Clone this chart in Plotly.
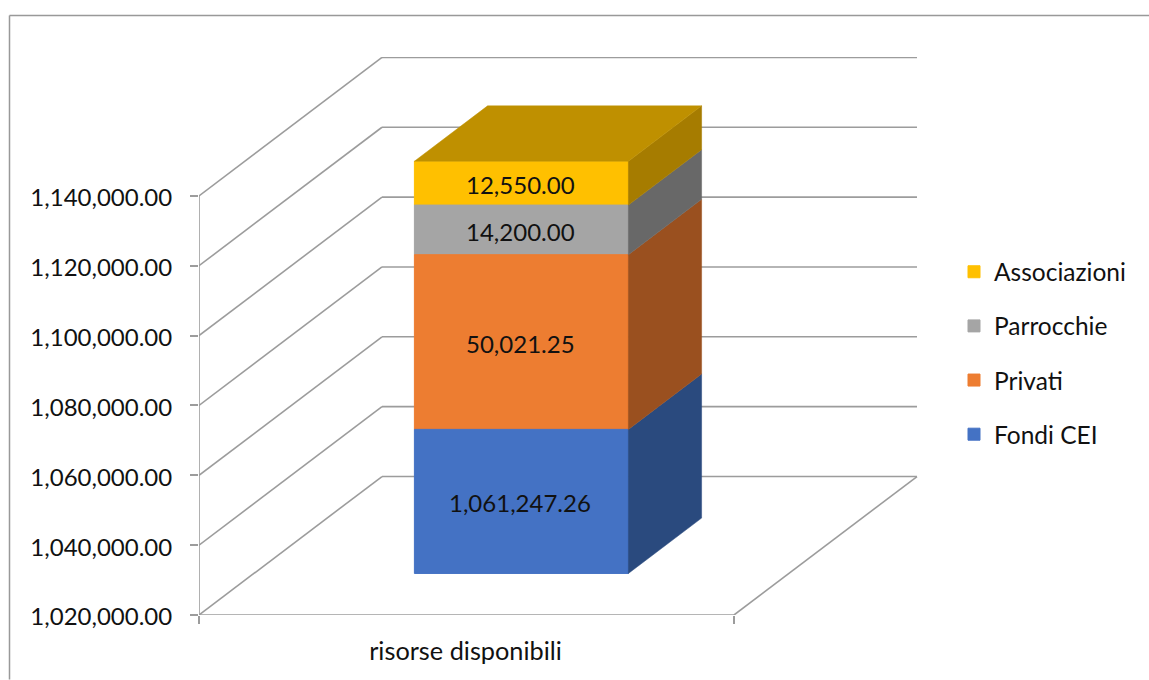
import plotly.graph_objects as go

# ---- data ----
categories = ["risorse disponibili"]
series_names = ["Fondi CEI", "Privati", "Parrocchie", "Associazioni"]
series_values = [1061247.26, 50021.25, 14200.00, 12550.00]
face_colors = ["#4472C4", "#ED7D31", "#A5A5A5", "#FFC000"]
side_colors = ["#2A4A7E", "#9A501F", "#686868", "#A67C00"]
top_color = "#BF9000"
y_ticks = [1020000, 1040000, 1060000, 1080000, 1100000, 1120000, 1140000]

# ---- layout constants (pixels of the page) ----
W, H = 1149, 680
PL, PR, PT, PB = 199.0, 918.0, 57.0, 615.5
BAND_PX = 535.0            # front width of the floor
DX_PX, DY_PX = 183.0, 138.6  # full depth of the chart box
Y_MIN = y_ticks[0]
PX_PER_UNIT = (PB - 196.0) / (y_ticks[-1] - y_ticks[0])

GRID = "#9C9C9C"
FONT = "Lato"
FS = 24
INK = "#111111"

# oblique projection, expressed in axis units
depth_x = DX_PX / BAND_PX
depth_y = DY_PX / PX_PER_UNIT
def proj(band, value, depth):
    return band + depth * depth_x, value + depth * depth_y

BAR_L, BAR_R, D0, D1 = 0.30, 0.70, 0.30, 0.70

fig = go.Figure()

# stack bounds
bounds = []
bottom = Y_MIN
for i, v in enumerate(series_values):
    height = v - Y_MIN if i == 0 else v
    bounds.append((bottom, bottom + height))
    bottom += height

# front faces: real bars; added top series first so the legend reads top to bottom
annotations = []
for i in reversed(range(len(series_names))):
    n, v, c = series_names[i], series_values[i], face_colors[i]
    lo, hi = bounds[i]
    x0, b0 = proj(0.5, lo, D0)
    fig.add_trace(go.Bar(
        x=[x0], y=[hi - lo], base=[b0], width=[BAR_R - BAR_L], name=n,
        legendgroup=n, marker=dict(color=c, line=dict(color=c, width=1)),
        hovertemplate=f"{n}: {v:,.2f}<extra></extra>",
    ))
    annotations.append(dict(x=x0, y=b0 + (hi - lo) / 2, xref="x", yref="y", text=f"{v:,.2f}",
                            showarrow=False, yshift=-1.5, xshift=-1,
                            font=dict(family=FONT, size=FS, color=INK)))

# right side faces
for (lo, hi), c in zip(bounds, side_colors):
    pts = [proj(BAR_R, lo, D0), proj(BAR_R, lo, D1), proj(BAR_R, hi, D1), proj(BAR_R, hi, D0), proj(BAR_R, lo, D0)]
    fig.add_trace(go.Scatter(x=[p[0] for p in pts], y=[p[1] for p in pts], mode="lines",
                             line=dict(width=0.5, color=c), fill="toself", fillcolor=c,
                             showlegend=False, hoverinfo="skip"))
# top face
pts = [proj(BAR_L, bottom, D0), proj(BAR_R, bottom, D0), proj(BAR_R, bottom, D1), proj(BAR_L, bottom, D1), proj(BAR_L, bottom, D0)]
fig.add_trace(go.Scatter(x=[p[0] for p in pts], y=[p[1] for p in pts], mode="lines",
                         line=dict(width=0.5, color=top_color), fill="toself", fillcolor=top_color,
                         showlegend=False, hoverinfo="skip"))

# wall and floor lines, underneath the bars
shapes = []
def seg(a, b):
    shapes.append(dict(type="line", xref="x", yref="y", layer="below",
                       x0=a[0], y0=a[1], x1=b[0], y1=b[1],
                       line=dict(color=GRID, width=1.6)))
for t in y_ticks:
    seg(proj(0, t, 0), proj(0, t, 1))
    seg(proj(0, t, 1), proj(1, t, 1))
seg(proj(0, Y_MIN, 0), proj(1, Y_MIN, 0))
seg(proj(1, Y_MIN, 0), proj(1, Y_MIN, 1))
seg(proj(0, y_ticks[0], 0), proj(0, y_ticks[-1], 0))

# outer frame of the picture
def px(x): return (x - PL) / (PR - PL)
def py(y): return (PB - y) / (PB - PT)
for (xa, ya, xb, yb) in [(9.5, 15.5, W, 15.5), (9.5, 15.5, 9.5, H)]:
    shapes.append(dict(type="line", xref="paper", yref="paper", x0=px(xa), y0=py(ya), x1=px(xb), y1=py(yb),
                       line=dict(color="#999999", width=1.5)))

fig.update_layout(
    width=W, height=H, autosize=False,
    margin=dict(l=PL, r=W - PR, t=PT, b=H - PB, pad=0),
    paper_bgcolor="white", plot_bgcolor="rgba(0,0,0,0)",
    barmode="overlay", shapes=shapes, annotations=annotations,
    font=dict(family=FONT, size=FS, color=INK),
    xaxis=dict(
        range=[0, (PR - PL) / BAND_PX], tickvals=[0.5], ticktext=categories, ticks="", showgrid=False,
        zeroline=False, showline=False,
        minor=dict(tickmode="array", tickvals=[0, 1], ticks="outside", ticklen=8, tickcolor=GRID, tickwidth=1.5, showgrid=False),
        ticklabelstandoff=19, ticklabelshift=-1, tickfont=dict(family=FONT, size=25.3, color=INK),
    ),
    yaxis=dict(
        range=[Y_MIN, Y_MIN + (PB - PT) / PX_PER_UNIT], tickvals=y_ticks, tickformat=",.2f",
        ticks="outside", ticklen=8, tickcolor=GRID, tickwidth=1.5, showgrid=False, zeroline=False,
        showline=False, ticklabelstandoff=13, ticklabelshift=2,
    ),
    showlegend=True,
    legend=dict(
        x=px(964), y=py(249.5), xanchor="left", yanchor="top",
        traceorder="grouped", tracegroupgap=19.3, indentation=-10,
        font=dict(family=FONT, size=24.5, color=INK), bgcolor="rgba(0,0,0,0)",
    ),
)

fig.write_html("out.html", config=dict(displayModeBar=False),
               post_script="document.body.style.margin='0';document.body.style.overflow='hidden';")
